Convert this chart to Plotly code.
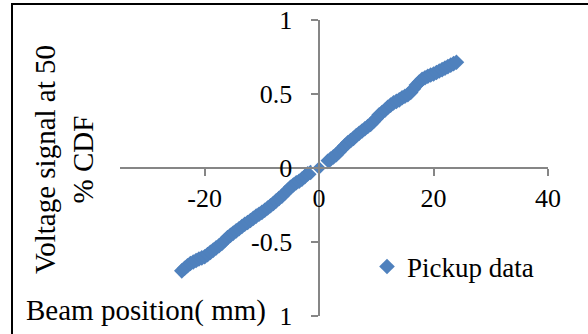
import plotly.graph_objects as go

# ---- data ----
x_neg = [-24, -23.5, -23, -22.5, -22, -21.5, -21, -20.5, -20, -19.5, -19, -18.5, -18, -17.5, -17,
         -16.5, -16, -15.5, -15, -14.5, -14, -13.5, -13, -12.5, -12, -11.5, -11, -10.5, -10,
         -9.5, -9, -8.5, -8, -7.5, -7, -6.5, -6, -5.5, -5, -4.5, -4, -3.5, -3, -2.5, -2, -1.5]
y_neg = [-0.695, -0.677, -0.66, -0.645, -0.635, -0.625, -0.615, -0.607, -0.60, -0.585, -0.57,
         -0.555, -0.54, -0.525, -0.51, -0.49, -0.47, -0.455, -0.44, -0.425, -0.41, -0.395,
         -0.38, -0.368, -0.355, -0.34, -0.325, -0.312, -0.30, -0.285, -0.27, -0.255, -0.24,
         -0.222, -0.205, -0.19, -0.17, -0.15, -0.13, -0.115, -0.10, -0.09, -0.075, -0.058,
         -0.04, -0.03]
x_pos = [1.5, 2, 2.5, 3, 3.5, 4, 4.5, 5, 5.5, 6, 6.5, 7, 7.5, 8, 8.5, 9, 9.5, 10, 10.5, 11,
         11.5, 12, 12.5, 13, 13.5, 14, 14.5, 15, 15.5, 16, 16.5, 17, 17.5, 18, 18.5, 19, 19.5,
         20, 20.5, 21, 21.5, 22, 22.5, 23, 23.5, 24]
y_pos = [0.045, 0.06, 0.075, 0.09, 0.11, 0.13, 0.15, 0.17, 0.185, 0.20, 0.22, 0.235, 0.25,
         0.265, 0.28, 0.295, 0.315, 0.335, 0.36, 0.375, 0.39, 0.41, 0.425, 0.44, 0.45, 0.46,
         0.475, 0.485, 0.495, 0.51, 0.535, 0.56, 0.58, 0.60, 0.61, 0.62, 0.628, 0.635, 0.645,
         0.655, 0.665, 0.675, 0.685, 0.695, 0.705, 0.715]
x_zero = [0]
y_zero = [0]

x_ticks = [-20, 0, 20, 40]
x_ticktext = ["-20", "0", "20", "40"]
y_ticks = [-1, -0.5, 0, 0.5, 1]
y_ticktext = ["-1", "-0.5", "0", "0.5", "1"]

series_name = "Pickup data"
x_title = "Beam position( mm)"
y_title = "Voltage signal at 50<br>% CDF"

# ---- layout geometry ----
W, H = 588, 334
x_range = [-34.8, 40]
y_range = [-1, 1]
px_left, px_right = 120, 548
px_top, px_bottom = 20, 316

xdom = [px_left / W, px_right / W]
ydom = [(H - px_bottom) / H, (H - px_top) / H]
x0_frac = xdom[0] + (0 - x_range[0]) / (x_range[1] - x_range[0]) * (xdom[1] - xdom[0])
y0_frac = ydom[0] + (0 - y_range[0]) / (y_range[1] - y_range[0]) * (ydom[1] - ydom[0])

blue = "#4F81BD"
axis_gray = "#868686"
font_family = "Liberation Serif, Times New Roman, serif"

xs = x_neg + x_pos + x_zero
ys = y_neg + y_pos + y_zero
line_w = [0] * (len(x_neg) + len(x_pos)) + [1.5]

fig = go.Figure()
fig.add_trace(go.Scatter(
    x=xs, y=ys, mode="markers", name=series_name,
    marker=dict(symbol="diamond", size=12, color=blue,
                line=dict(color="white", width=line_w)),
))

fig.update_layout(
    width=W, height=H,
    margin=dict(l=0, r=0, t=0, b=0, autoexpand=False),
    paper_bgcolor="white", plot_bgcolor="white",
    font=dict(family=font_family, size=26, color="black"),
    showlegend=True,
    legend=dict(x=367 / W, y=(H - 267) / H, xanchor="left", yanchor="middle",
                font=dict(size=27), itemwidth=30, bgcolor="rgba(0,0,0,0)"),
    xaxis=dict(domain=xdom, range=x_range, anchor="free", position=y0_frac,
               tickvals=x_ticks, ticktext=x_ticktext, showgrid=False, zeroline=False,
               showline=True, linecolor=axis_gray, linewidth=1.5, automargin=False,
               ticks="outside", ticklen=7, tickcolor=axis_gray, tickwidth=1.5,
               tickfont=dict(size=26)),
    yaxis=dict(domain=ydom, range=y_range, anchor="free", position=x0_frac,
               tickvals=y_ticks, ticktext=y_ticktext, showgrid=False, zeroline=False,
               showline=True, linecolor=axis_gray, linewidth=1.5, automargin=False,
               ticks="outside", ticklen=7, tickcolor=axis_gray, tickwidth=1.5,
               tickfont=dict(size=26), ticklabelstandoff=14),
)

# frame
fig.add_shape(type="rect", xref="paper", yref="paper",
              x0=12 / W, x1=1.2, y0=-0.2, y1=(H - 4) / H,
              line=dict(color="black", width=2), fillcolor="rgba(0,0,0,0)", layer="below")

# axis titles (the x title box overlaps the lowest y tick label, as in the reference)
fig.add_annotation(text=x_title + "&nbsp;&nbsp;", xref="paper", yref="paper",
                   x=25 / W, y=(H - 310) / H, xanchor="left", yanchor="middle",
                   showarrow=False, font=dict(size=29), bgcolor="white", borderpad=0)
fig.add_annotation(text=y_title, xref="paper", yref="paper",
                   x=64 / W, y=(H - 160) / H, xanchor="center", yanchor="middle",
                   textangle=-90, showarrow=False, font=dict(size=29))

fig.write_html("out.html")
